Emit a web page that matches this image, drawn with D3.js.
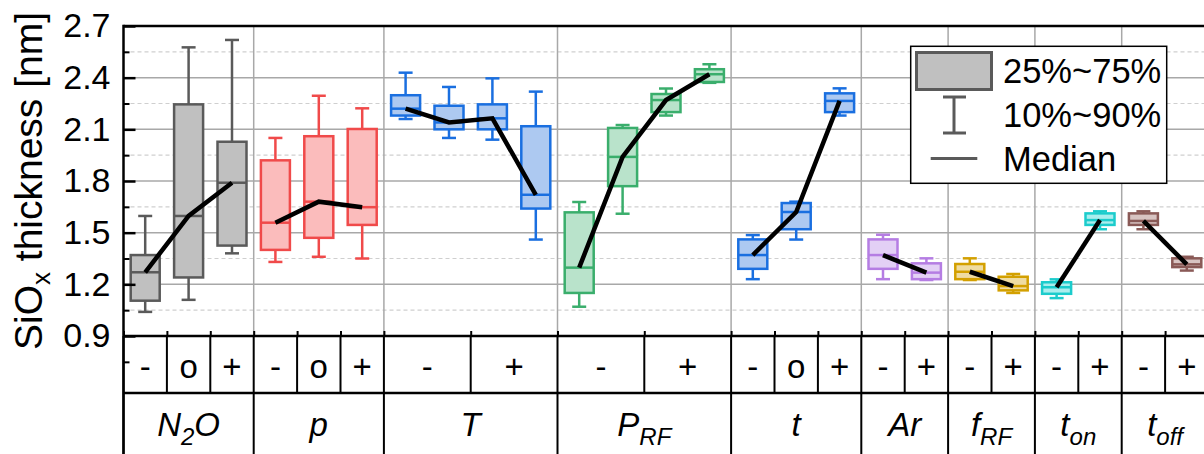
<!DOCTYPE html>
<html><head><meta charset="utf-8">
<script src="https://cdn.jsdelivr.net/npm/d3@7/dist/d3.min.js"></script>
<style>body{margin:0;background:#fff}svg{display:block;font-family:"Liberation Sans",Arial,sans-serif}</style>
</head><body>
<svg id="c" width="1204" height="454"></svg>
<script>
// ---- data ----
const groupMain = ["N","p","T","P","t","Ar","f","t","t"];
const groupSub  = ["2","","","RF","","","RF","on","off"];
const groupTail = ["O","","","","","","","",""];
const groupBoxes = [3,3,4,4,3,2,2,2,2];
const levelLabels = [["-","o","+"],["-","o","+"],["-","+"],["-","+"],["-","o","+"],["-","+"],["-","+"],["-","+"],["-","+"]];
const strokeColors = ["#5a5a5a","#f04a4a","#1a6fe0","#3aae6c","#1a6fe0","#b57de3","#d3a000","#1ccccc","#8a5a57"];
const fillColors   = ["#c0c0c0","#fbbcbc","#adc9f1","#b9e3cb","#adc9f1","#e3d0f5","#efdca2","#aaeeee","#d8c4c2"];
const p10 = [1.04,1.11,1.38, 1.33,1.36,1.35, 2.16,2.05,2.04,1.46, 1.07,1.61,2.18,2.37, 1.23,1.46,2.18, 1.23,1.225, 1.225,1.15, 1.12,1.52, 1.52,1.28];
const p25 = [1.105,1.24,1.425, 1.40,1.47,1.545, 2.18,2.10,2.10,1.64, 1.15,1.77,2.20,2.375, 1.29,1.52,2.20, 1.29,1.23, 1.23,1.165, 1.145,1.545, 1.545,1.30];
const med = [1.27,1.597,1.79, 1.558,1.68,1.648, 2.22,2.14,2.164,1.72, 1.297,1.94,2.27,2.42, 1.37,1.62,2.265, 1.37,1.268, 1.273,1.19, 1.183,1.573, 1.568,1.316];
const p75 = [1.37,2.245,2.028, 1.92,2.06,2.102, 2.298,2.237,2.245,2.118, 1.618,2.108,2.305,2.449, 1.461,1.672,2.309, 1.461,1.322, 1.318,1.244, 1.212,1.612, 1.612,1.351];
const p90 = [1.597,2.576,2.619, 2.05,2.295,2.222, 2.429,2.346,2.396,2.319, 1.678,2.125,2.337,2.478, 1.486,1.68,2.338, 1.488,1.351, 1.351,1.26, 1.229,1.624, 1.624,1.36];
const yTicks = [0.9,1.2,1.5,1.8,2.1,2.4,2.7];
const yMinor = [0.75,1.05,1.35,1.65,1.95,2.25,2.55];
const legendLabels = ["25%~75%","10%~90%","Median"];

// ---- layout ----
const svg = d3.select("#c");
const nSlots = d3.sum(groupBoxes);
const x = d3.scaleLinear().domain([0,nSlots]).range([123.5,1208.5]);
const y = d3.scaleLinear().domain([0.9,2.7]).range([336,26]);
const rowTop = 336, rowMid = 393, rowBot = 454;

const groupStart = [];
let acc = 0;
groupBoxes.forEach(n=>{groupStart.push(acc); acc+=n;});
const boxes = [];
groupBoxes.forEach((n,g)=>{ for(let i=0;i<n;i++){ const k=groupStart[g]+i; boxes.push({g,k,p10:p10[k],p25:p25[k],med:med[k],p75:p75[k],p90:p90[k]}); }});
const cells = [];
levelLabels.forEach((labs,g)=>{ const span=groupBoxes[g]/labs.length; labs.forEach((l,i)=>cells.push({label:l,a:groupStart[g]+i*span,b:groupStart[g]+(i+1)*span})); });

// ---- grid ----
const grid = svg.append("g");
grid.selectAll(".mn").data(yMinor.filter(v=>v>0.9)).join("line")
  .attr("x1",x(0)).attr("x2",1204).attr("y1",d=>y(d)).attr("y2",d=>y(d))
  .attr("stroke","#cfcfcf").attr("stroke-width",1.2).attr("stroke-dasharray","4,3");
grid.selectAll(".mj").data(yTicks.filter(v=>v>0.9&&v<2.7)).join("line")
  .attr("x1",x(0)).attr("x2",1204).attr("y1",d=>y(d)).attr("y2",d=>y(d))
  .attr("stroke","#a8a8a8").attr("stroke-width",1.5);
grid.selectAll(".vg").data(groupStart.slice(1)).join("line")
  .attr("x1",d=>x(d)).attr("x2",d=>x(d)).attr("y1",y(2.7)).attr("y2",rowTop)
  .attr("stroke","#a8a8a8").attr("stroke-width",1.5);

// ---- boxes ----
const bw = 29, cw = 14;
const bg = svg.append("g").selectAll("g").data(boxes).join("g")
  .attr("transform",d=>`translate(${x(d.k+0.5)},0)`);
bg.append("line").attr("y1",d=>y(d.p90)).attr("y2",d=>y(d.p75)).attr("stroke",d=>strokeColors[d.g]).attr("stroke-width",2.5);
bg.append("line").attr("y1",d=>y(d.p25)).attr("y2",d=>y(d.p10)).attr("stroke",d=>strokeColors[d.g]).attr("stroke-width",2.5);
bg.append("line").attr("x1",-cw/2).attr("x2",cw/2).attr("y1",d=>y(d.p90)).attr("y2",d=>y(d.p90)).attr("stroke",d=>strokeColors[d.g]).attr("stroke-width",2.5);
bg.append("line").attr("x1",-cw/2).attr("x2",cw/2).attr("y1",d=>y(d.p10)).attr("y2",d=>y(d.p10)).attr("stroke",d=>strokeColors[d.g]).attr("stroke-width",2.5);
bg.append("rect").attr("x",-bw/2).attr("width",bw).attr("y",d=>y(d.p75)).attr("height",d=>y(d.p25)-y(d.p75))
  .attr("fill",d=>fillColors[d.g]).attr("stroke",d=>strokeColors[d.g]).attr("stroke-width",2.5);
bg.append("line").attr("x1",-bw/2).attr("x2",bw/2).attr("y1",d=>y(d.med)).attr("y2",d=>y(d.med)).attr("stroke",d=>strokeColors[d.g]).attr("stroke-width",2.5);

const ln = d3.line().x(d=>x(d.k+0.5)).y(d=>y(d.med));
svg.append("g").selectAll("path").data(d3.groups(boxes,d=>d.g).map(e=>e[1])).join("path")
  .attr("d",ln).attr("fill","none").attr("stroke","#000").attr("stroke-width",4.5);

// ---- axes ----
const yAx = svg.append("g").attr("transform",`translate(${x(0)},0)`)
  .call(d3.axisLeft(y).tickValues(yTicks).tickSize(-12).tickPadding(13).tickFormat(d3.format(".1f")));
yAx.select(".domain").remove();
yAx.selectAll(".tick line").attr("stroke","#000").attr("stroke-width",2.5);
yAx.selectAll("text").attr("font-size",34).attr("fill","#000").attr("font-family","Liberation Sans, Arial, sans-serif");
const yMin = svg.append("g").attr("transform",`translate(${x(0)},0)`)
  .call(d3.axisLeft(y).tickValues(yMinor).tickSize(-6).tickFormat(""));
yMin.select(".domain").remove();
yMin.selectAll(".tick line").attr("stroke","#000").attr("stroke-width",2);

const bTicks = Array.from(new Set(cells.map(c=>c.a))).concat([nSlots]);
const xAx = svg.append("g").attr("transform",`translate(0,${rowTop})`)
  .call(d3.axisBottom(x).tickValues(bTicks).tickSize(-5).tickFormat(""));
xAx.select(".domain").remove();
xAx.selectAll(".tick line").attr("stroke","#000").attr("stroke-width",2);

svg.append("line").attr("x1",x(0)).attr("x2",1204).attr("y1",y(2.7)).attr("y2",y(2.7)).attr("stroke","#000").attr("stroke-width",2.5);
svg.append("line").attr("x1",x(0)).attr("x2",x(0)).attr("y1",y(2.7)-1.2).attr("y2",rowBot).attr("stroke","#000").attr("stroke-width",2.5);

// y title
const yt = svg.append("text").attr("transform","translate(42,181) rotate(-90)").attr("text-anchor","middle")
  .attr("font-size",39).attr("fill","#000");
yt.append("tspan").text("SiO");
yt.append("tspan").attr("font-size",26).attr("dy",8).text("x");
yt.append("tspan").attr("dy",-8).text(" thickness [nm]");

// ---- table ----
const tb = svg.append("g");
tb.append("line").attr("x1",x(0)).attr("x2",1204).attr("y1",rowTop).attr("y2",rowTop).attr("stroke","#000").attr("stroke-width",2.5);
tb.append("line").attr("x1",x(0)).attr("x2",1204).attr("y1",rowMid).attr("y2",rowMid).attr("stroke","#000").attr("stroke-width",2.5);
tb.selectAll(".cv").data(bTicks).join("line").attr("x1",d=>x(d)).attr("x2",d=>x(d)).attr("y1",rowTop).attr("y2",rowMid).attr("stroke","#000").attr("stroke-width",2);
tb.selectAll(".gv").data(groupStart.concat([nSlots])).join("line").attr("x1",d=>x(d)).attr("x2",d=>x(d)).attr("y1",rowMid).attr("y2",rowBot).attr("stroke","#000").attr("stroke-width",2);
tb.selectAll(".cl").data(cells).join("text").attr("x",d=>x((d.a+d.b)/2)).attr("y",378)
  .attr("text-anchor","middle").attr("font-size",33).attr("fill","#000").text(d=>d.label);
const gl = tb.selectAll(".gl").data(groupMain.map((m,i)=>i)).join("text")
  .attr("x",i=>x(groupStart[i]+groupBoxes[i]/2)).attr("y",436).attr("text-anchor","middle")
  .attr("font-size",33).attr("font-style","italic").attr("fill","#000");
gl.append("tspan").text(i=>groupMain[i]);
gl.append("tspan").attr("font-size",24).attr("dy",9).text(i=>groupSub[i]);
gl.append("tspan").attr("dy",-9).text(i=>groupTail[i]);

// ---- legend ----
const lg = svg.append("g");
lg.append("rect").attr("x",910.7).attr("y",46.3).attr("width",256).attr("height",137).attr("fill","#fff").attr("stroke","#000").attr("stroke-width",1.5);
lg.append("rect").attr("x",916.5).attr("y",52.5).attr("width",75).attr("height",37).attr("fill","#c0c0c0").attr("stroke","#5a5a5a").attr("stroke-width",3);
lg.append("line").attr("x1",954).attr("x2",954).attr("y1",97).attr("y2",133).attr("stroke","#5a5a5a").attr("stroke-width",3);
lg.append("line").attr("x1",943).attr("x2",966).attr("y1",97).attr("y2",97).attr("stroke","#5a5a5a").attr("stroke-width",3);
lg.append("line").attr("x1",943).attr("x2",966).attr("y1",133).attr("y2",133).attr("stroke","#5a5a5a").attr("stroke-width",3);
lg.append("line").attr("x1",930.7).attr("x2",977.3).attr("y1",158.5).attr("y2",158.5).attr("stroke","#5a5a5a").attr("stroke-width",3);
lg.selectAll(".lt").data(legendLabels).join("text").attr("x",1003).attr("y",(d,i)=>[82.5,126.5,170.5][i])
  .attr("font-size",34.5).attr("fill","#000").text(d=>d);
</script>
</body></html>
